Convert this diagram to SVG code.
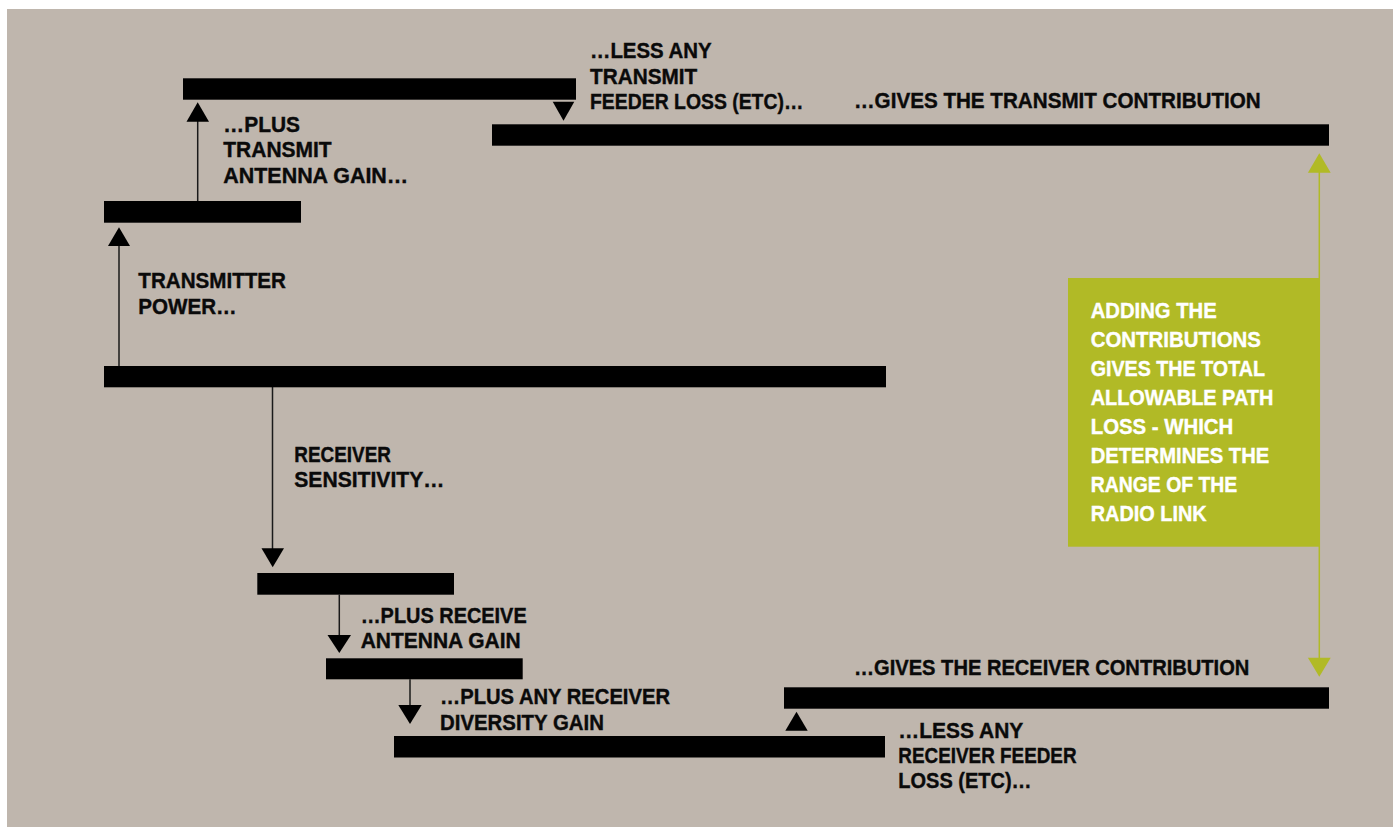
<svg xmlns="http://www.w3.org/2000/svg" width="1393" height="827" viewBox="0 0 1393 827">
<style>
.bar{fill:#000}
.ln{stroke:#1a1a1a;stroke-width:1.5;fill:none}
.gln{stroke:#B1BA26;stroke-width:1.5;fill:none}
.tri{fill:#000}
.gtri{fill:#B1BA26}
text{font-family:"Liberation Sans",Arial,sans-serif;font-weight:bold;font-size:22.5px;fill:#0a0a0a;stroke:#0a0a0a;stroke-width:0.4}
.w{fill:#fff;stroke:#fff;font-size:21.5px}
</style>
<rect x="0" y="0" width="1393" height="827" fill="#fff"/>
<rect x="7" y="9" width="1386" height="818" fill="#BFB6AD"/>

<g id="connectors">
  <line class="ln" x1="119" y1="366" x2="119" y2="245"/>
  <polygon class="tri" points="119,227.3 130,246 108,246"/>
  <line class="ln" x1="197.7" y1="201" x2="197.7" y2="121"/>
  <polygon class="tri" points="197.7,102.3 209,121.7 186.5,121.7"/>
  <polygon class="tri" points="552.7,101.7 574.3,101.7 563.5,120.7"/>
  <line class="ln" x1="272.5" y1="387" x2="272.5" y2="549"/>
  <polygon class="tri" points="261.5,548.3 284,548.3 272.7,567.3"/>
  <line class="ln" x1="339.3" y1="594.7" x2="339.3" y2="637"/>
  <polygon class="tri" points="327.5,635 351,635 339.3,653"/>
  <line class="ln" x1="410" y1="679.3" x2="410" y2="705"/>
  <polygon class="tri" points="398.3,705 421.7,705 410,724"/>
  <polygon class="tri" points="796.5,711.7 807.7,730.7 785.3,730.7"/>
  <line class="gln" x1="1319.3" y1="172" x2="1319.3" y2="658"/>
  <polygon class="gtri" points="1319.3,153.3 1330.7,172.7 1307.9,172.7"/>
  <polygon class="gtri" points="1307.9,657.7 1330.7,657.7 1319.3,676.7"/>
</g>

<g id="bar-transmitter-power"><rect class="bar" x="104" y="366" width="782" height="21.3"/></g>
<g id="bar-antenna-gain"><rect class="bar" x="104" y="201" width="197" height="21.7"/></g>
<g id="bar-tx-top"><rect class="bar" x="183" y="78.3" width="393" height="21.4"/></g>
<g id="bar-tx-contribution"><rect class="bar" x="492" y="124.3" width="837" height="21.4"/></g>
<g id="bar-rx-sensitivity"><rect class="bar" x="257.3" y="573" width="196.7" height="21.7"/></g>
<g id="bar-rx-antenna"><rect class="bar" x="326" y="658.3" width="196.7" height="21"/></g>
<g id="bar-rx-diversity"><rect class="bar" x="394" y="736" width="491" height="21.5"/></g>
<g id="bar-rx-contribution"><rect class="bar" x="784" y="687.3" width="545" height="21.4"/></g>

<g id="label-transmitter-power">
  <text x="138.3" y="288.3" textLength="147.7" lengthAdjust="spacingAndGlyphs">TRANSMITTER</text>
  <text x="138.3" y="314" textLength="98.4" lengthAdjust="spacingAndGlyphs">POWER…</text>
</g>
<g id="label-tx-antenna">
  <text x="223.3" y="131.7" textLength="76.7" lengthAdjust="spacingAndGlyphs">…PLUS</text>
  <text x="223.3" y="156.7" textLength="108.3" lengthAdjust="spacingAndGlyphs">TRANSMIT</text>
  <text x="223.3" y="182.7" textLength="185" lengthAdjust="spacingAndGlyphs">ANTENNA GAIN…</text>
</g>
<g id="label-tx-feeder">
  <text x="590" y="58.3" textLength="121.7" lengthAdjust="spacingAndGlyphs">…LESS ANY</text>
  <text x="590" y="84" textLength="107.3" lengthAdjust="spacingAndGlyphs">TRANSMIT</text>
  <text x="590" y="109" textLength="213.3" lengthAdjust="spacingAndGlyphs">FEEDER LOSS (ETC)…</text>
</g>
<g id="label-tx-contribution">
  <text x="854" y="108.3" textLength="406.7" lengthAdjust="spacingAndGlyphs">…GIVES THE TRANSMIT CONTRIBUTION</text>
</g>
<g id="label-rx-sensitivity">
  <text x="294.3" y="461.7" textLength="96.7" lengthAdjust="spacingAndGlyphs">RECEIVER</text>
  <text x="294.3" y="486.7" textLength="150" lengthAdjust="spacingAndGlyphs">SENSITIVITY…</text>
</g>
<g id="label-rx-antenna">
  <text x="360.7" y="622.7" textLength="166" lengthAdjust="spacingAndGlyphs">…PLUS RECEIVE</text>
  <text x="360.7" y="648.3" textLength="160" lengthAdjust="spacingAndGlyphs">ANTENNA GAIN</text>
</g>
<g id="label-rx-diversity">
  <text x="440" y="704.3" textLength="230" lengthAdjust="spacingAndGlyphs">…PLUS ANY RECEIVER</text>
  <text x="440" y="730" textLength="164" lengthAdjust="spacingAndGlyphs">DIVERSITY GAIN</text>
</g>
<g id="label-rx-feeder">
  <text x="898.3" y="738.3" textLength="125" lengthAdjust="spacingAndGlyphs">…LESS ANY</text>
  <text x="898.3" y="763.3" textLength="178.3" lengthAdjust="spacingAndGlyphs">RECEIVER FEEDER</text>
  <text x="898.3" y="788.3" textLength="133.3" lengthAdjust="spacingAndGlyphs">LOSS (ETC)…</text>
</g>
<g id="label-rx-contribution">
  <text x="854" y="675" textLength="395.3" lengthAdjust="spacingAndGlyphs">…GIVES THE RECEIVER CONTRIBUTION</text>
</g>

<g id="total-path-loss">
  <rect x="1068" y="278" width="252" height="268.7" fill="#B1BA26"/>
  <text class="w" x="1090.7" y="317.7" textLength="126" lengthAdjust="spacingAndGlyphs">ADDING THE</text>
  <text class="w" x="1090.7" y="346.7" textLength="170.3" lengthAdjust="spacingAndGlyphs">CONTRIBUTIONS</text>
  <text class="w" x="1090.7" y="375.7" textLength="174.3" lengthAdjust="spacingAndGlyphs">GIVES THE TOTAL</text>
  <text class="w" x="1090.7" y="405" textLength="182.6" lengthAdjust="spacingAndGlyphs">ALLOWABLE PATH</text>
  <text class="w" x="1090.7" y="434" textLength="142.6" lengthAdjust="spacingAndGlyphs">LOSS - WHICH</text>
  <text class="w" x="1090.7" y="463" textLength="178.6" lengthAdjust="spacingAndGlyphs">DETERMINES THE</text>
  <text class="w" x="1090.7" y="492" textLength="146.6" lengthAdjust="spacingAndGlyphs">RANGE OF THE</text>
  <text class="w" x="1090.7" y="521" textLength="116" lengthAdjust="spacingAndGlyphs">RADIO LINK</text>
</g>
</svg>
